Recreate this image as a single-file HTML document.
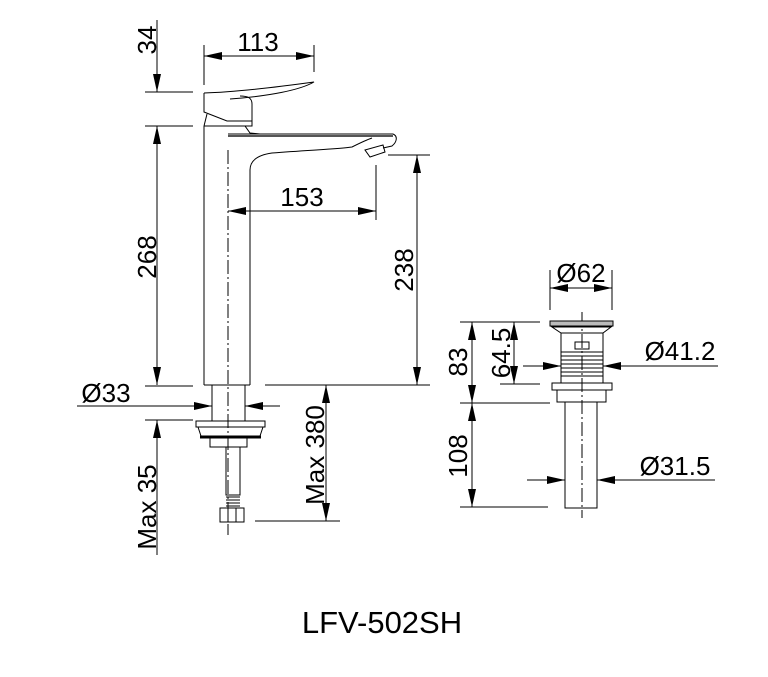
<!DOCTYPE html>
<html><head><meta charset="utf-8"><style>
html,body{margin:0;padding:0;background:#fff;}
svg{display:block;}
text{font-family:"Liberation Sans",Arial,sans-serif;fill:#000;}
</style></head><body>
<svg width="768" height="677" viewBox="0 0 768 677" xmlns="http://www.w3.org/2000/svg">
<defs>
<marker id="a" viewBox="0 0 18 8" refX="18" refY="4" markerWidth="18" markerHeight="8" orient="auto-start-reverse" markerUnits="userSpaceOnUse">
<path d="M0,0 L18,4 L0,8 z" fill="#000"/></marker>
</defs>
<g stroke="#000" stroke-width="1" fill="none">
<line x1="228" y1="150" x2="228" y2="535" stroke-dasharray="14,3,2,3"/>
<line x1="582" y1="312" x2="582" y2="518" stroke-dasharray="14,3,2,3"/>

<path d="M204,93 C240,92 285,86 314,82 C300,90 270,96 230,99"/>
<path d="M204,93 L204,112 L227,121 L252,121 L252,104 C252,98 248,96 240,96"/>
<path d="M204,126 L207,114 M204,126 L252,126 L252,121"/>
<path d="M245,126 L250,133 L260,134"/>
<line x1="204" y1="126" x2="204" y2="385"/>
<path d="M228,134 L393,134 C398,136 397,142 392,146 L383,148"/>
<line x1="228" y1="136" x2="393" y2="136" stroke="#555" stroke-width="2"/>
<path d="M250,385 L250,170 C250,160 258,155 272,153 C310,150 340,149 352,147 C360,143 366,140 372,138"/>
<path d="M365,150 L383,145 L385,152 L370,157 z"/>
<line x1="204" y1="385" x2="250" y2="385"/>
<rect x="212" y="385" width="33" height="36"/>
<path d="M196,421 L265,421 L265,427 L196,427 z"/>
<path d="M198,427 L201,436 L260,436 L263,427"/>
<line x1="200" y1="437" x2="261" y2="437" stroke-width="3"/>
<rect x="210" y="438" width="37" height="9"/>
<rect x="226" y="447" width="14" height="48"/>
<path d="M226,497 h14 M226,500 h14 M226,503 h14 M226,506 h14"/>
<rect x="220" y="508" width="24" height="14"/>
<path d="M228,508 v14 M236,508 v14"/>

<line x1="157" y1="20" x2="157" y2="92" marker-end="url(#a)"/>
<line x1="145" y1="92" x2="193" y2="92"/>
<line x1="145" y1="126" x2="193" y2="126"/>
<line x1="157" y1="126" x2="157" y2="385" marker-start="url(#a)" marker-end="url(#a)"/>
<line x1="145" y1="386" x2="193" y2="386"/>
<line x1="145" y1="420" x2="193" y2="420"/>
<line x1="157" y1="420" x2="157" y2="555" marker-start="url(#a)"/>
<line x1="77" y1="406" x2="212" y2="406" marker-end="url(#a)"/>
<line x1="280" y1="406" x2="245" y2="406" marker-end="url(#a)"/>
<line x1="204" y1="45" x2="204" y2="85"/>
<line x1="314" y1="45" x2="314" y2="72"/>
<line x1="204" y1="56" x2="314" y2="56" marker-start="url(#a)" marker-end="url(#a)"/>
<line x1="376" y1="165" x2="376" y2="220"/>
<line x1="228" y1="211" x2="376" y2="211" marker-start="url(#a)" marker-end="url(#a)"/>
<line x1="388" y1="155" x2="430" y2="155"/>
<line x1="265" y1="385" x2="430" y2="385"/>
<line x1="417" y1="155" x2="417" y2="385" marker-start="url(#a)" marker-end="url(#a)"/>
<line x1="326" y1="385" x2="326" y2="521" marker-start="url(#a)" marker-end="url(#a)"/>
<line x1="255" y1="521" x2="340" y2="521"/>

<rect x="550" y="321" width="63" height="5" fill="#bbb"/>
<path d="M552,327 L611,327 L603,333 L561,333 z"/>
<rect x="561" y="333" width="42" height="50"/>
<rect x="575" y="342" width="14" height="7"/>
<path d="M561,352 h42 M561,356 h42 M561,360 h42 M561,364 h42 M561,368 h42 M561,372 h42 M561,376 h42"/>
<rect x="552" y="383" width="60" height="7"/>
<path d="M557,390 L557,402 L606,402 L606,390"/>
<rect x="565" y="402" width="32" height="106"/>
<line x1="550" y1="270" x2="550" y2="310"/>
<line x1="612" y1="270" x2="612" y2="310"/>
<line x1="550" y1="288" x2="612" y2="288" marker-start="url(#a)" marker-end="url(#a)"/>
<line x1="460" y1="322" x2="540" y2="322"/>
<line x1="500" y1="384" x2="540" y2="384"/>
<line x1="460" y1="403" x2="550" y2="403"/>
<line x1="460" y1="507" x2="548" y2="507"/>
<line x1="472" y1="322" x2="472" y2="403" marker-start="url(#a)" marker-end="url(#a)"/>
<line x1="514" y1="322" x2="514" y2="384" marker-start="url(#a)" marker-end="url(#a)"/>
<line x1="472" y1="403" x2="472" y2="507" marker-start="url(#a)" marker-end="url(#a)"/>
<line x1="523" y1="366" x2="561" y2="366" marker-end="url(#a)"/>
<line x1="718" y1="366" x2="603" y2="366" marker-end="url(#a)"/>
<line x1="527" y1="480" x2="565" y2="480" marker-end="url(#a)"/>
<line x1="715" y1="480" x2="597" y2="480" marker-end="url(#a)"/>
</g>

<g font-size="26">
<text x="258" y="51" text-anchor="middle">113</text>
<text x="302" y="206" text-anchor="middle">153</text>
<text x="106" y="402" text-anchor="middle">Ø33</text>
<text transform="translate(156,40) rotate(-90)" text-anchor="middle">34</text>
<text transform="translate(156,257) rotate(-90)" text-anchor="middle">268</text>
<text transform="translate(156,507) rotate(-90)" text-anchor="middle">Max 35</text>
<text transform="translate(324,455) rotate(-90)" text-anchor="middle">Max 380</text>
<text transform="translate(413,270) rotate(-90)" text-anchor="middle">238</text>
<text x="581" y="282" text-anchor="middle">Ø62</text>
<text x="680" y="360" text-anchor="middle">Ø41.2</text>
<text x="675" y="475" text-anchor="middle">Ø31.5</text>
<text transform="translate(467,362) rotate(-90)" text-anchor="middle">83</text>
<text transform="translate(510,353) rotate(-90)" text-anchor="middle">64.5</text>
<text transform="translate(467,456) rotate(-90)" text-anchor="middle">108</text>
</g>
<text x="382" y="633" font-size="31" text-anchor="middle">LFV-502SH</text>
</svg>
</body></html>
